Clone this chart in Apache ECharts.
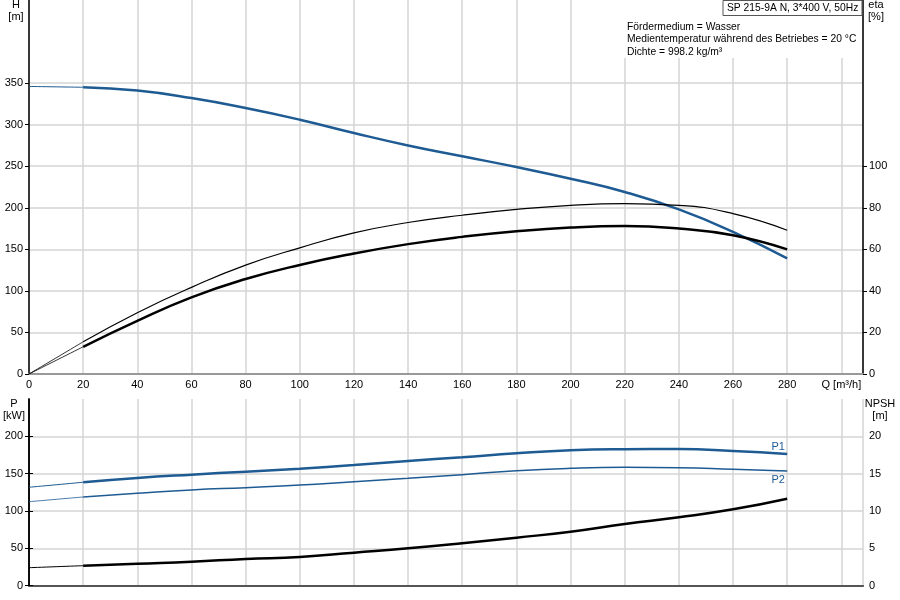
<!DOCTYPE html>
<html>
<head>
<meta charset="utf-8">
<title>SP 215-9A N</title>
<script src="https://cdn.jsdelivr.net/npm/echarts@6.0.0/dist/echarts.min.js"></script>
<style>
  html, body { margin: 0; padding: 0; background: #fff; }
  #chart { width: 900px; height: 600px; }
</style>
</head>
<body>
<div id="chart"></div>
<script>
// Förderstrom Q [m³/h]
const qValues = [0, 20, 40, 60, 80, 100, 120, 140, 160, 180, 200, 220, 240, 260, 280]
// Förderhöhe H [m]
const headValues = [346, 345, 341, 332, 320, 306, 290, 275, 262, 249, 235, 219, 198, 171, 139]
// Wirkungsgrad Pumpe / gesamt [%]
const etaPumpValues = [0, 15.5, 29.5, 41.7, 52.4, 60.7, 67.9, 72.9, 76.4, 79.2, 81.2, 82.0, 81.2, 77.2, 69.2]
const etaTotalValues = [0, 13.1, 25.6, 36.9, 45.7, 52.5, 58.0, 62.5, 66.0, 68.7, 70.5, 71.2, 70.0, 66.8, 60.0]
// Leistung P1 / P2 [kW]
const p1Values = [131.8, 138.5, 144.2, 148.7, 152.7, 156.7, 161.6, 167, 172, 177.3, 181.3, 182.7, 183, 180.4, 176.4]
const p2Values = [112.5, 118.8, 123.7, 128.2, 131.3, 134.7, 139.3, 143.8, 148.7, 154, 157.2, 158.5, 158, 155.9, 153.6]
// NPSH [m]
const npshValues = [2.41, 2.68, 2.95, 3.21, 3.58, 3.85, 4.42, 5.0, 5.68, 6.43, 7.23, 8.26, 9.16, 10.23, 11.65]

// beschriftete Achsenwerte
const hTicks = [0, 50, 100, 150, 200, 250, 300, 350]
const etaTicks = [0, 20, 40, 60, 80, 100]
const pTicks = [0, 50, 100, 150, 200]
const npshTicks = [0, 5, 10, 15, 20]

const titleText = 'SP 215-9A N, 3*400 V, 50Hz'
const infoLines = [
  'Fördermedium = Wasser',
  'Medientemperatur während des Betriebes = 20 °C',
  'Dichte = 998.2 kg/m³'
]

const BLUE = '#1f5b93'
const FONT = '"Liberation Sans", Arial, sans-serif'
const SMALL_FONT = '10.3px ' + FONT

// Punkte [Q, y] aus zwei Arrays
const pairs = (ys) => qValues.map((q, i) => [q, ys[i]])
// dünner Anfangsabschnitt 0..20 und Hauptkurve ab 20
const headPart = (ys) => pairs(ys).slice(0, 2)
const mainPart = (ys) => pairs(ys).slice(1)

const lineSeries = (name, data, xIdx, yIdx, color, width) => ({
  name,
  type: 'line',
  xAxisIndex: xIdx,
  yAxisIndex: yIdx,
  data,
  smooth: 0.5,
  symbol: 'none',
  lineStyle: { color, width },
  z: 3
})

// Kurve mit Beschriftung am letzten Punkt (P1 / P2)
const labelledSeries = (name, data, xIdx, yIdx, color, width, position, offset) => {
  const s = lineSeries(name, data, xIdx, yIdx, color, width)
  const last = data.length - 1
  s.symbol = 'circle'
  s.symbolSize = 1
  s.showSymbol = true
  s.itemStyle = { color: 'rgba(0,0,0,0)' }
  s.data = data.map((p, i) => i === last ? {
    value: p,
    label: {
      show: true, formatter: name, position, offset, distance: 5,
      color: BLUE, fontSize: 11, fontFamily: FONT
    }
  } : p)
  return s
}

const axisLabelStyle = { color: '#000', fontSize: 11, fontFamily: FONT }
const gridLine = { show: true, lineStyle: { color: '#d4d4d4', width: 1.5 } }

// senkrechte Achse mit Ticks/Beschriftung nur an den gegebenen Werten
const valueAxis = (gridIndex, position, max, interval, ticks, withGrid) => ({
  gridIndex, type: 'value', position, min: 0, max, interval,
  axisLine: { show: true, lineStyle: { color: '#000', width: 1.5 } },
  axisTick: { show: true, length: 4, customValues: ticks, lineStyle: { color: '#000' } },
  axisLabel: Object.assign({}, axisLabelStyle, { margin: 6, customValues: ticks }),
  splitLine: withGrid ? gridLine : { show: false }
})

const chart = echarts.init(document.getElementById('chart'))

const option = {
  animation: false,
  backgroundColor: '#fff',
  grid: [
    { left: 29, right: 37, top: 0, height: 374 },
    { left: 29, right: 37, top: 399, height: 186.7 }
  ],
  xAxis: [
    {
      gridIndex: 0, type: 'value', min: 0, max: 308, interval: 20,
      axisLine: { lineStyle: { color: '#999', width: 2 } },
      axisTick: { show: false },
      axisLabel: Object.assign({}, axisLabelStyle, {
        margin: 5,
        formatter: (v) => v <= 280 ? String(v) : (v === 300 ? 'Q [m³/h]' : '')
      }),
      splitLine: gridLine
    },
    {
      gridIndex: 1, type: 'value', min: 0, max: 308, interval: 20,
      axisLine: { lineStyle: { color: '#999', width: 2 } },
      axisTick: { show: false },
      axisLabel: { show: false },
      splitLine: gridLine
    },
    {
      gridIndex: 1, type: 'value', position: 'top', min: 0, max: 308,
      axisLine: { lineStyle: { color: '#555', width: 2 } },
      axisTick: { show: false },
      axisLabel: { show: false },
      splitLine: { show: false }
    }
  ],
  yAxis: [
    valueAxis(0, 'left', 450, 50, hTicks, true),
    valueAxis(0, 'right', 180, 20, etaTicks, false),
    valueAxis(1, 'left', 250, 50, pTicks, true),
    valueAxis(1, 'right', 25, 5, npshTicks, false)
  ],
  series: [
    // H-Kurve
    lineSeries('H start', headPart(headValues), 0, 0, BLUE, 1),
    lineSeries('H', mainPart(headValues), 0, 0, BLUE, 2.5),
    // Wirkungsgrade
    lineSeries('eta start', headPart(etaPumpValues), 0, 1, '#000', 0.8),
    lineSeries('eta', mainPart(etaPumpValues), 0, 1, '#000', 1.2),
    lineSeries('eta total start', headPart(etaTotalValues), 0, 1, '#000', 0.8),
    lineSeries('eta total', mainPart(etaTotalValues), 0, 1, '#000', 2.5),
    // Leistungen
    lineSeries('P1 start', headPart(p1Values), 1, 2, BLUE, 1),
    labelledSeries('P1', mainPart(p1Values), 1, 2, BLUE, 2.5, 'top', [-9, 4]),
    lineSeries('P2 start', headPart(p2Values), 1, 2, BLUE, 0.8),
    labelledSeries('P2', mainPart(p2Values), 1, 2, BLUE, 1.5, 'bottom', [-9, -2]),
    // NPSH
    lineSeries('NPSH start', headPart(npshValues), 1, 3, '#000', 1),
    lineSeries('NPSH', mainPart(npshValues), 1, 3, '#000', 2.5)
  ],
  graphic: [
    // Infofeld oben rechts
    { type: 'rect', shape: { x: 622, y: 0, width: 240, height: 58 }, style: { fill: '#fff' }, z: 10 },
    { type: 'rect', shape: { x: 723, y: 0.5, width: 139, height: 15 }, style: { fill: '#fff', stroke: '#555', lineWidth: 1 }, z: 11 },
    { type: 'text', x: 727, y: 8, style: { text: titleText, font: SMALL_FONT, fill: '#000', textVerticalAlign: 'middle' }, z: 12 },
    ...infoLines.map((line, i) => ({
      type: 'text', x: 627, y: 27 + i * 12.5,
      style: { text: line, font: SMALL_FONT, fill: '#000', textVerticalAlign: 'middle' }, z: 12
    })),
    // Achsentitel
    { type: 'text', x: 16, y: 5, style: { text: 'H', font: '11px ' + FONT, fill: '#000', textAlign: 'center', textVerticalAlign: 'middle' } },
    { type: 'text', x: 16, y: 17, style: { text: '[m]', font: '11px ' + FONT, fill: '#000', textAlign: 'center', textVerticalAlign: 'middle' } },
    { type: 'text', x: 876, y: 5, style: { text: 'eta', font: '11px ' + FONT, fill: '#000', textAlign: 'center', textVerticalAlign: 'middle' } },
    { type: 'text', x: 876, y: 17, style: { text: '[%]', font: '11px ' + FONT, fill: '#000', textAlign: 'center', textVerticalAlign: 'middle' } },
    { type: 'text', x: 14, y: 404, style: { text: 'P', font: '11px ' + FONT, fill: '#000', textAlign: 'center', textVerticalAlign: 'middle' } },
    { type: 'text', x: 14, y: 416, style: { text: '[kW]', font: '11px ' + FONT, fill: '#000', textAlign: 'center', textVerticalAlign: 'middle' } },
    { type: 'text', x: 880, y: 404, style: { text: 'NPSH', font: '11px ' + FONT, fill: '#000', textAlign: 'center', textVerticalAlign: 'middle' } },
    { type: 'text', x: 880, y: 416, style: { text: '[m]', font: '11px ' + FONT, fill: '#000', textAlign: 'center', textVerticalAlign: 'middle' } }
  ]
}

chart.setOption(option)
</script>
</body>
</html>
